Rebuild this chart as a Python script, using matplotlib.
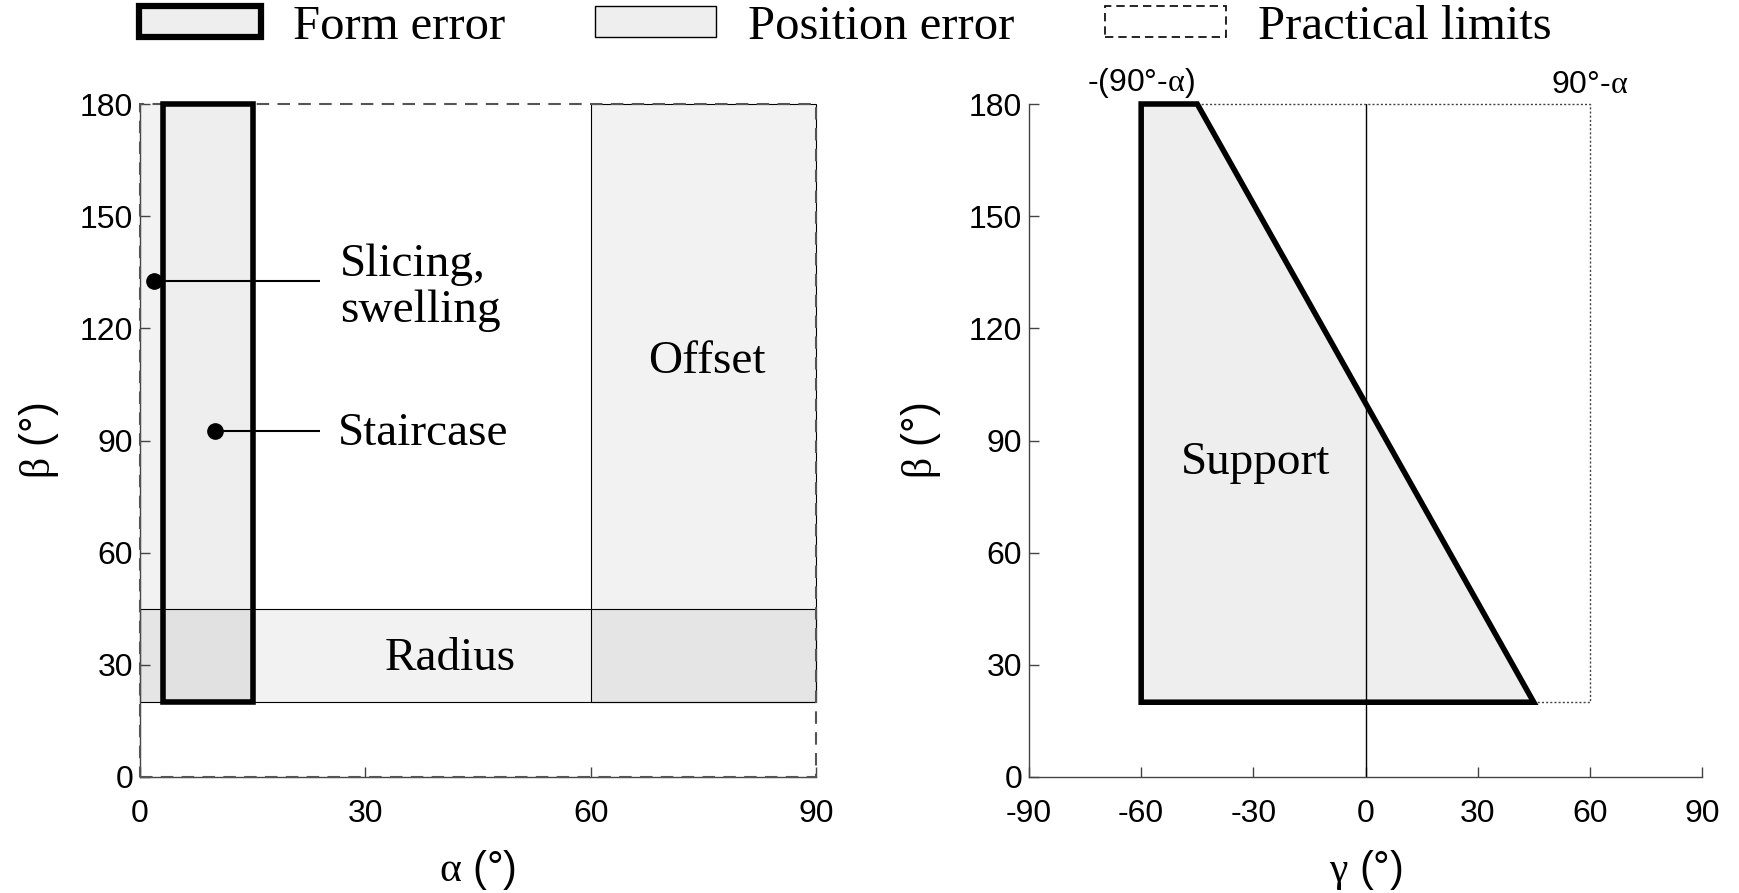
import matplotlib
matplotlib.use("Agg")
import matplotlib.pyplot as plt
from matplotlib.patches import Rectangle, Polygon, Patch

# ---------------- data ----------------
left_xticks = [0, 30, 60, 90]
yticks = [0, 30, 60, 90, 120, 150, 180]
right_xticks = [-90, -60, -30, 0, 30, 60, 90]

# regions in the alpha-beta plane (alpha range, beta range)
form_alpha = [3, 15]
form_beta = [20, 180]
slicing_strip_alpha = [0, 3]
slicing_strip_beta = [20, 180]
offset_alpha = [60, 90]
offset_beta = [20, 180]
radius_alpha = [0, 90]
radius_beta = [20, 45]
practical_alpha = [0, 90]
practical_beta = [0, 180]

# annotations: dot (alpha, beta), leader end alpha, labels
slicing_point = [1.9, 132.7]
staircase_point = [10.0, 92.6]
leader_end_alpha = 24.0
slicing_label = "Slicing,\nswelling"
staircase_label = "Staircase"
slicing_label_pos = [26.6, 130.8]
staircase_label_pos = [26.4, 91.8]
offset_label_pos = [75.5, 111.0]
radius_label_pos = [41.3, 31.5]

# right plot: support polygon and practical limits
support_gamma = [-60, -60, -45, 45]
support_beta = [20, 180, 180, 20]
limit_gamma = [-45, 60, 60, 45]
limit_beta = [180, 180, 20, 20]
support_label_pos = [-29.5, 84.0]
top_label_left = [-60, r"-(90°-$\mathrm{\alpha}$)"]
top_label_right = [60, r"90°-$\mathrm{\alpha}$"]

SANS = ["Liberation Sans", "DejaVu Sans"]
SERIF = ["Liberation Serif", "DejaVu Serif"]

plt.rcParams["font.family"] = SANS
plt.rcParams["axes.unicode_minus"] = False
plt.rcParams["mathtext.fontset"] = "custom"
plt.rcParams["mathtext.rm"] = "Liberation Serif"
plt.rcParams["mathtext.it"] = "Liberation Serif"
plt.rcParams["mathtext.bf"] = "Liberation Serif:bold"
plt.rcParams["mathtext.default"] = "rm"

fig = plt.figure(figsize=(17.4, 8.93), dpi=100)
W, H = 1740, 893
axL = fig.add_axes([140 / W, 1 - 777 / H, (816 - 140) / W, (777 - 104) / H])
axR = fig.add_axes([1029 / W, 1 - 777 / H, (1702 - 1029) / W, (777 - 104) / H])

TICK_FS = 23
LABEL_FS = 30
ANN_FS = 34

for ax in (axL, axR):
    for s in ("top", "right"):
        ax.spines[s].set_visible(False)
    for s in ("left", "bottom"):
        ax.spines[s].set_color("#444444")
        ax.spines[s].set_linewidth(1.0)
    ax.tick_params(direction="in", length=7, width=1, color="#444444",
                   labelsize=TICK_FS)
    ax.tick_params(axis="x", pad=16)
    ax.tick_params(axis="y", pad=5)
    ax.set_ylim(0, 180)
    ax.set_yticks(yticks)

# ---------------- left plot ----------------
axL.set_xlim(0, 90)
axL.set_xticks(left_xticks)

def rect(ax, xr, yr, **kw):
    r = Rectangle((xr[0], yr[0]), xr[1] - xr[0], yr[1] - yr[0], **kw)
    ax.add_patch(r)
    return r

rect(axL, slicing_strip_alpha, slicing_strip_beta, facecolor="black",
     alpha=0.05, edgecolor="none", zorder=1)
rect(axL, offset_alpha, offset_beta, facecolor=(0, 0, 0, 0.05),
     edgecolor="black", linewidth=0.8, zorder=2, clip_on=False)
rect(axL, radius_alpha, radius_beta, facecolor=(0, 0, 0, 0.05),
     edgecolor="black", linewidth=0.8, zorder=2, clip_on=False)
rect(axL, form_alpha, form_beta, facecolor=(0, 0, 0, 0.066),
     edgecolor="black", linewidth=4, zorder=4, clip_on=False)
rect(axL, practical_alpha, practical_beta, facecolor="none",
     edgecolor="#555555", linewidth=1.5, linestyle=(0, (6, 4)), zorder=3,
     clip_on=False)

for pt in (slicing_point, staircase_point):
    axL.plot([pt[0], leader_end_alpha], [pt[1], pt[1]], color="black",
             lw=1.5, zorder=5, solid_capstyle="butt")
    axL.plot(pt[0], pt[1], "o", color="black", ms=11, zorder=6, clip_on=False)
axL.text(slicing_label_pos[0], slicing_label_pos[1], slicing_label,
         ha="left", va="center", fontsize=ANN_FS, family=SERIF,
         linespacing=1.12)
axL.text(staircase_label_pos[0], staircase_label_pos[1], staircase_label,
         ha="left", va="center", fontsize=ANN_FS, family=SERIF)
axL.text(offset_label_pos[0], offset_label_pos[1], "Offset", ha="center",
         va="center", fontsize=ANN_FS, family=SERIF)
axL.text(radius_label_pos[0], radius_label_pos[1], "Radius", ha="center",
         va="center", fontsize=ANN_FS, family=SERIF)

axL.set_xlabel(r"$\mathrm{\alpha}$ (°)", fontsize=LABEL_FS)
axL.set_ylabel(r"$\mathrm{\beta}$ (°)", fontsize=LABEL_FS)
axL.xaxis.set_label_coords(0.5, -0.105)
axL.yaxis.set_label_coords(-0.117, 0.5)

# ---------------- right plot ----------------
axR.set_xlim(-90, 90)
axR.set_xticks(right_xticks)

axR.plot([0, 0], [0, 180], color="black", lw=1.0, zorder=2)
axR.plot(limit_gamma, limit_beta, color="#444444", lw=1.0,
         linestyle=(0, (1.5, 1.5)), zorder=2, clip_on=False)
poly = Polygon(list(zip(support_gamma, support_beta)), closed=True,
               facecolor=(0, 0, 0, 0.066), edgecolor="black", linewidth=4,
               joinstyle="miter", zorder=3, clip_on=False)
axR.add_patch(poly)
axR.text(support_label_pos[0], support_label_pos[1], "Support", ha="center",
         va="center", fontsize=ANN_FS, family=SERIF)
axR.text(top_label_left[0], 181, top_label_left[1], ha="center",
         va="bottom", fontsize=TICK_FS)
axR.text(top_label_right[0], 181, top_label_right[1], ha="center",
         va="bottom", fontsize=TICK_FS)

axR.set_xlabel(r"$\mathrm{\gamma}$ (°)", fontsize=LABEL_FS)
axR.set_ylabel(r"$\mathrm{\beta}$ (°)", fontsize=LABEL_FS)
axR.xaxis.set_label_coords(0.5, -0.105)
axR.yaxis.set_label_coords(-0.128, 0.5)

# ---------------- legend ----------------
handles = [
    Patch(facecolor="#eeeeee", edgecolor="black", linewidth=4.5),
    Patch(facecolor="#eeeeee", edgecolor="black", linewidth=1.0),
    Patch(facecolor="none", edgecolor="black", linewidth=1.2,
          linestyle=(0, (5, 3))),
]
labels = ["Form error", "Position error", "Practical limits"]
fig.legend(handles, labels, loc="center left",
           bbox_to_anchor=(139 / W, 1 - 27 / H), ncol=3, frameon=False,
           prop={"family": SERIF, "size": 35}, handlelength=2.5,
           handleheight=0.6, handletextpad=0.66, columnspacing=1.85,
           borderpad=0, borderaxespad=0)

fig.savefig("out.png", dpi=100)
